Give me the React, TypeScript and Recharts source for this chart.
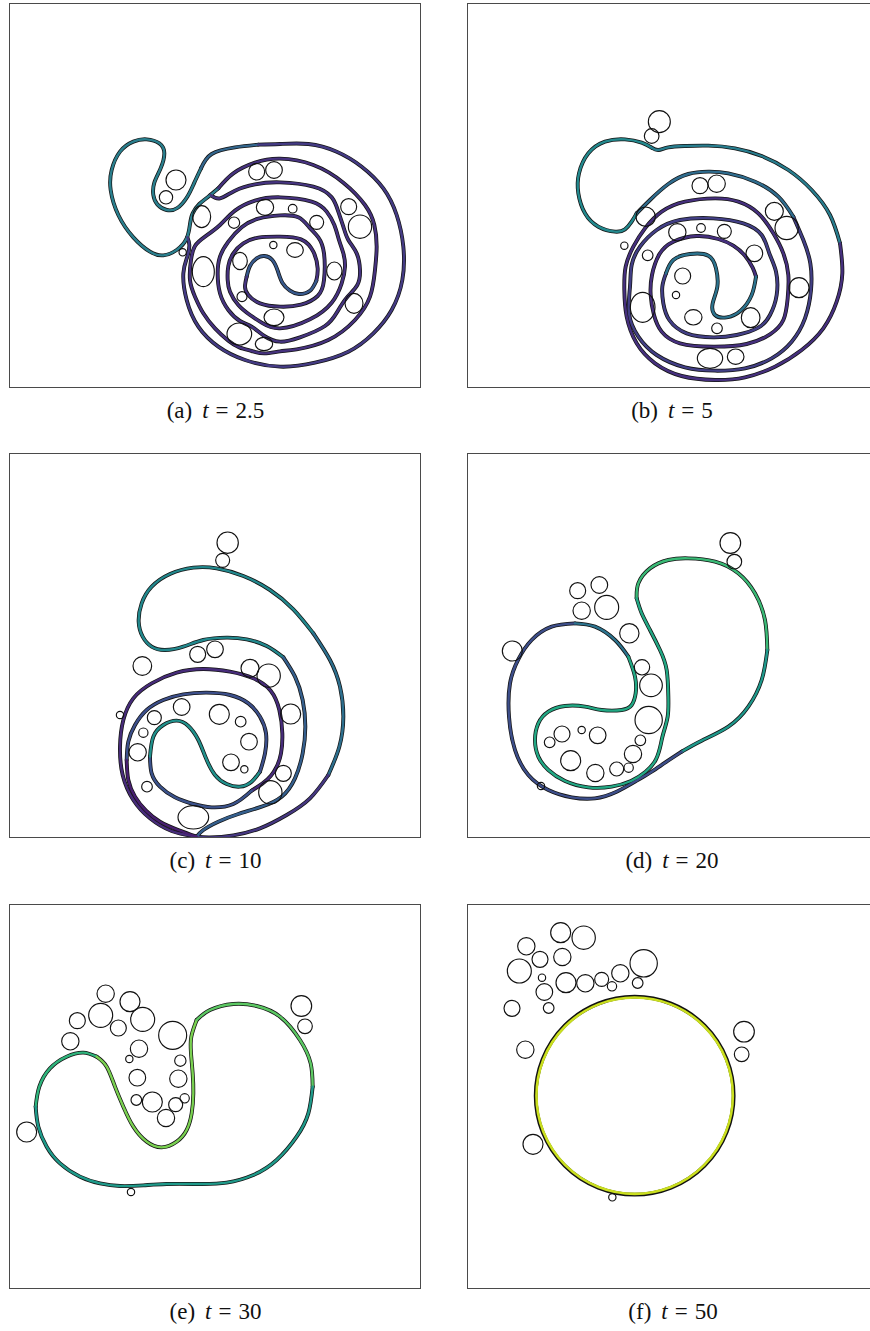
import React from 'react';
import { ComposedChart, Line, Scatter, XAxis, YAxis } from 'recharts';

type Pt = [number, number];
type Bub = [number, number, number, number]; // x, y, rx, ry (data units)

// ============ (a) t = 2.5 ============
const aHead: Pt[] = [[655,565],[625,590],[598,612],[578,640],[570,672],[560,715],[530,750],[490,766],[450,755],[400,712],[355,645],[332,570],[335,510],[360,455],[400,425],[440,418],[478,430],[493,460],[482,505],[463,548],[460,585],[472,613],[500,630],[532,624],[562,590],[582,550],[603,505]];
const aHook: Pt[] = [[603,505],[635,462],[705,442],[775,434]];
const aOuter: Pt[] = [[775,434],[840,432],[925,432],[1010,455],[1085,500],[1150,565],[1190,645],[1210,740],[1207,840],[1175,930],[1120,1000],[1045,1055],[945,1088],[840,1100],[735,1080],[655,1040],[595,980],[560,900],[550,820],[562,770],[568,735],[562,712]];
const aInward: Pt[] = [[655,565],[700,520],[765,488],[840,476],[940,495],[1030,548],[1095,615],[1123,675],[1130,740],[1125,810],[1110,890],[1065,960],[985,1020],[890,1048],[840,1054],[793,1060],[755,1053],[718,1042],[685,1022],[645,985],[610,940],[585,890],[570,840],[573,780],[585,738],[615,710],[660,675],[705,632],[765,602],[840,592],[935,605],[980,635],[1003,675],[1017,720],[1030,760],[1035,800],[1025,850],[995,908],[930,958],[840,985],[785,968],[750,945],[715,915],[690,875],[683,840],[685,798],[700,760],[730,730],[775,713],[840,710],[903,718],[940,755],[953,805],[949,842]];
const aCore: Pt[] = [[949,842],[930,872],[897,882],[870,872],[847,848],[833,812],[817,780],[793,768],[770,775],[750,798],[740,830]];
const aOutward: Pt[] = [[740,830],[735,860],[745,885],[780,910],[840,920],[903,914],[953,888],[972,840],[972,760],[955,712],[928,682],[895,652],[840,646],[775,656],[725,682],[685,725],[660,770],[653,820],[660,880],[685,930],[720,963],[755,980],[793,1008],[840,1025],[900,1012],[975,978],[1012,935],[1040,893],[1072,855],[1080,810],[1070,760],[1045,720],[1030,680],[1015,635],[995,592],[940,560],[840,547],[765,553],[705,572],[660,595],[632,585]];
const aBubbles: Bub[] = [[528,540,30,30],[498,592,20,20],[770,515,24,25],[822,510,25,25],[605,650,27,33],[702,668,17,17],[795,622,26,24],[878,626,13,13],[950,667,21,21],[1046,620,24,24],[1080,680,35,35],[548,757,11,11],[820,735,11,11],[885,750,25,22],[720,783,22,26],[610,815,33,45],[1003,813,23,27],[726,890,15,15],[1062,910,27,30],[822,952,30,25],[718,1002,37,33],[792,1032,26,20]];

// ============ (b) t = 5 ============
const bHead: Pt[] = [[545,640],[530,665],[510,688],[480,695],[430,680],[390,640],[370,580],[372,520],[400,460],[450,425],[510,418],[560,428],[590,443]];
const bOuterTop: Pt[] = [[1155,730],[1125,645],[1070,570],[1000,510],[920,468],[840,445],[760,437],[690,438],[640,442],[610,450],[590,443]];
const bOuter: Pt[] = [[903,830],[893,803],[870,767],[835,737],[790,717],[725,708],[655,725],[613,763],[591,825],[587,885],[597,945],[620,995],[675,1030],[775,1040],[875,1032],[945,1003],[985,960],[998,895],[1000,825],[985,760],[955,700],[910,640],[850,605],[780,595],[690,605],[620,635],[570,685],[535,740],[512,800],[508,870],[515,950],[545,1030],[600,1090],[680,1128],[780,1140],[870,1132],[960,1100],[1040,1050],[1105,985],[1145,905],[1162,820],[1155,730]];
const bInner: Pt[] = [[633,820],[622,860],[625,910],[643,960],[695,1000],[775,1012],[845,1005],[910,983],[945,945],[965,885],[963,815],[943,760],[920,705],[865,670],[775,655],[675,660],[605,690],[555,740],[530,795],[525,860],[522,940],[550,1010],[605,1065],[690,1102],[780,1112],[870,1105],[950,1075],[1010,1025],[1050,955],[1068,870],[1066,790],[1045,720],[1015,650]];
const bInnerTop: Pt[] = [[1015,650],[970,590],[900,545],[820,520],[760,515],[700,522],[640,552],[585,600],[545,640]];
const bCore: Pt[] = [[633,820],[655,780],[705,762],[760,767],[783,805],[787,860],[773,910],[780,945],[815,952],[857,932],[890,885],[903,830]];
const bBubbles: Bub[] = [[613,365,33,33],[590,408,22,22],[508,737,11,11],[735,557,24,24],[785,551,26,26],[572,650,29,29],[958,634,27,27],[995,684,35,35],[667,697,26,26],[738,684,13,13],[808,694,21,21],[578,766,16,16],[898,760,25,25],[683,828,24,24],[663,885,11,11],[1032,863,30,30],[563,922,37,45],[715,952,26,23],[887,953,28,30],[786,985,16,16],[765,1075,38,30],[842,1070,25,23]];

// ============ (c) t = 10 ============
const cHeadTop: Pt[] = [[850,622],[800,588],[740,568],[680,563],[610,570],[550,590],[495,600],[455,590],[428,560],[416,515],[425,460],[455,410],[510,372],[580,353],[650,355],[730,378],[810,420],[880,478],[940,550]];
const cHeadSide: Pt[] = [[940,550],[990,630],[1020,710],[1030,800],[1018,890],[985,975]];
const cHeadBottom: Pt[] = [[985,975],[930,1045],[860,1095],[780,1135],[700,1156],[630,1162],[590,1160]];
const cBlueArm: Pt[] = [[850,622],[885,680],[908,750],[916,830],[908,910],[885,985],[845,1040],[785,1070],[715,1092],[655,1115],[610,1140],[590,1160]];
const cPurpleArm: Pt[] = [[590,1160],[515,1143],[450,1105],[400,1050],[368,975],[360,890],[370,810],[400,745],[455,700],[530,668],[610,657],[690,665],[760,685],[812,722],[838,780],[847,850],[843,910],[830,950],[812,978],[788,1000],[755,1022]];
const cLoopBottom: Pt[] = [[755,1022],[700,1062],[635,1072],[580,1062],[525,1042],[480,1010],[455,970],[450,920]];
const cCore: Pt[] = [[450,920],[460,860],[490,825],[530,812],[565,828],[595,870],[618,925],[645,975],[680,1002],[720,1010],[755,995],[780,965]];
const cLoopTop: Pt[] = [[780,965],[795,910],[798,850],[780,800],[745,760],[690,735],[620,728],[550,733],[490,750],[440,780],[405,825],[385,875],[380,930]];
const cInnerLeft: Pt[] = [[380,930],[385,990],[405,1040],[438,1082],[480,1115],[535,1140],[590,1160]];
const cBubbles: Bub[] = [[683,278,32,32],[668,331,21,21],[427,648,28,28],[593,613,24,24],[645,598,25,25],[750,655,27,27],[806,677,35,35],[872,792,30,30],[360,795,11,11],[463,803,21,21],[545,771,25,25],[658,793,30,30],[722,815,16,16],[430,848,14,14],[747,875,25,25],[413,907,26,26],[693,937,25,25],[733,958,11,11],[850,970,24,24],[811,1027,35,35],[441,1010,16,16],[580,1102,46,35]];

// ============ (d) t = 20 ============
const dTop: Pt[] = [[545,445],[550,400],[585,355],[640,330],[700,325],[780,335],[850,370],[900,430],[930,510],[937,600]];
const dRight: Pt[] = [[937,600],[920,690],[880,770],[820,830],[740,872],[680,905]];
const dLeft: Pt[] = [[680,905],[630,938],[590,965],[545,992],[485,1025],[420,1045],[350,1042],[280,1020],[220,975],[180,900],[162,800],[165,700],[190,628],[230,570],[290,530],[360,520]];
const dNeck: Pt[] = [[360,520],[420,530],[480,570],[520,620]];
const dCurl: Pt[] = [[520,620],[540,680],[542,730],[530,765],[500,780],[440,780],[390,770],[330,768],[280,785],[250,820],[240,870],[250,920],[280,960],[330,993],[400,1012],[470,1010],[528,993],[572,965],[603,928],[618,880],[625,850],[638,800],[640,740],[635,660],[615,600],[585,540],[560,490],[545,445]];
const dBubbles: Bub[] = [[826,279,31,31],[838,335,22,22],[368,422,24,24],[433,405,25,25],[380,482,26,26],[455,472,36,36],[523,550,29,29],[172,603,30,30],[561,652,23,23],[588,706,34,34],[581,810,41,41],[321,852,24,24],[380,840,11,11],[428,856,25,25],[284,877,16,16],[556,871,16,16],[347,932,30,30],[534,912,26,26],[421,969,26,26],[485,957,21,21],[521,953,14,14],[258,1008,11,11]];

// ============ (e) t = 30 ============
const eLeftTop: Pt[] = [[107,620],[118,560],[150,505],[200,470],[250,458],[290,470]];
const eValley: Pt[] = [[290,470],[320,500],[345,560],[370,620],[400,680],[440,725],[485,742],[530,725],[560,690],[575,640],[580,580],[578,520],[573,460],[574,410],[590,360]];
const eRightTop: Pt[] = [[590,360],[630,330],[700,312],[770,318],[840,350],[900,420],[932,490],[938,560]];
const eBottom: Pt[] = [[938,560],[925,640],[890,710],[830,780],[760,825],[680,848],[600,852],[500,852],[430,856],[360,858],[300,850],[240,830],[180,790],[140,740],[115,680],[107,620]];
const eBubbles: Bub[] = [[317,281,26,26],[390,305,30,30],[232,362,24,24],[302,346,36,36],[355,384,24,24],[428,358,36,36],[211,424,26,26],[518,406,42,42],[417,446,26,26],[388,477,11,11],[541,482,17,17],[412,533,25,25],[535,536,26,26],[409,600,16,16],[457,606,30,30],[527,614,21,21],[554,595,14,14],[498,654,26,26],[904,318,31,31],[915,379,22,22],[80,696,30,30],[393,876,11,11]];

// ============ (f) t = 50 ============
const fDrop = [{ x: 539, y: 587, r: 297 }];
const fBubbles: Bub[] = [[317,98,30,30],[386,113,35,35],[214,139,26,26],[255,178,24,24],[322,171,26,26],[193,213,36,36],[261,233,11,11],[333,248,30,30],[391,250,26,26],[440,238,21,21],[471,259,14,14],[496,220,26,26],[566,190,41,41],[548,249,16,16],[268,276,25,25],[281,324,16,16],[171,325,24,24],[211,449,26,26],[867,395,31,31],[860,463,22,22],[234,733,30,30],[472,892,11,11]];

const captionLabels = ['(a)', '(b)', '(c)', '(d)', '(e)', '(f)'];
const captionTimes = ['2.5', '5', '10', '20', '30', '50'];

// ---------------- rendering ----------------
const W = 412;
const H = 385;
const SPAN_X = 1236;
const SPAN_Y = 1155;
const PX = W / SPAN_X;

type Stroke = { pts: Pt[]; color: string };

const toXY = (pts: Pt[]) => pts.map(([x, y]) => ({ x, y }));
const toBub = (b: Bub[]) => b.map(([x, y, rx, ry]) => ({ x, y, rx, ry }));

const BubbleShape = (props: any) => {
  const { cx, cy, payload } = props;
  if (cx == null || cy == null || !payload) return <g />;
  return (
    <ellipse cx={cx} cy={cy} rx={payload.rx * PX} ry={payload.ry * PX} fill="none" stroke="#111" strokeWidth={1.15} />
  );
};

const RING_COLOR = '#cadf1f';
const RingShape = (props: any) => {
  const { cx, cy, payload } = props;
  if (cx == null || cy == null || !payload) return <g />;
  const r = payload.r * PX;
  return (
    <g>
      <circle cx={cx} cy={cy} r={r} fill="none" stroke="#111" strokeWidth={3.8} />
      <circle cx={cx} cy={cy} r={r - 0.8} fill="none" stroke={RING_COLOR} strokeWidth={2.6} />
    </g>
  );
};

type PanelCfg = {
  left: number;
  top: number;
  x0: number;
  y0: number;
  strokes: Stroke[];
  bubbles: Bub[];
  drop?: boolean;
};

const PANELS: PanelCfg[] = [
  {
    left: 9, top: 3, x0: 27, y0: 9,
    strokes: [
      { pts: aHead, color: '#2a7f8e' },
      { pts: aHook, color: '#33668d' },
      { pts: aOuter, color: '#443b84' },
      { pts: aInward, color: '#46327e' },
      { pts: aCore, color: '#37598c' },
      { pts: aOutward, color: '#45347f' },
    ],
    bubbles: aBubbles,
  },
  {
    left: 467, top: 3, x0: 36, y0: 9,
    strokes: [
      { pts: bHead, color: '#23898e' },
      { pts: bOuterTop, color: '#287d8e' },
      { pts: bOuter, color: '#46307e' },
      { pts: bInner, color: '#423f85' },
      { pts: bInnerTop, color: '#2f6c8e' },
      { pts: bCore, color: '#2c738e' },
    ],
    bubbles: bBubbles,
  },
  {
    left: 9, top: 453, x0: 27, y0: 9,
    strokes: [
      { pts: cHeadTop, color: '#22888d' },
      { pts: cHeadSide, color: '#2d6f8e' },
      { pts: cHeadBottom, color: '#453781' },
      { pts: cBlueArm, color: '#355f8d' },
      { pts: cPurpleArm, color: '#472c7a' },
      { pts: cLoopBottom, color: '#3b528b' },
      { pts: cCore, color: '#21918c' },
      { pts: cLoopTop, color: '#3c4f8a' },
      { pts: cInnerLeft, color: '#481f70' },
    ],
    bubbles: cBubbles,
  },
  {
    left: 467, top: 453, x0: 36, y0: 9,
    strokes: [
      { pts: dTop, color: '#3aba76' },
      { pts: dRight, color: '#1f988b' },
      { pts: dLeft, color: '#3d4e8a' },
      { pts: dNeck, color: '#2c738e' },
      { pts: dCurl, color: '#22a884' },
    ],
    bubbles: dBubbles,
  },
  {
    left: 9, top: 904, x0: 27, y0: 12,
    strokes: [
      { pts: eLeftTop, color: '#2fb47c' },
      { pts: eValley, color: '#7ad151' },
      { pts: eRightTop, color: '#5cc863' },
      { pts: eBottom, color: '#1f9a8a' },
    ],
    bubbles: eBubbles,
  },
  {
    left: 467, top: 904, x0: 36, y0: 12,
    strokes: [],
    bubbles: fBubbles,
    drop: true,
  },
];

const CAPTION_CX = [215.5, 672, 215.5, 672, 215.5, 673];
const CAPTION_TOP = [398.5, 398.5, 848.5, 848.5, 1299.5, 1299.5];

function Panel({ cfg }: { cfg: PanelCfg }) {
  return (
    <div style={{ position: 'absolute', left: cfg.left, top: cfg.top, width: W, height: H }}>
      <ComposedChart width={W} height={H} margin={{ top: 0, right: 0, bottom: 0, left: 0 }}>
        <XAxis type="number" dataKey="x" domain={[cfg.x0, cfg.x0 + SPAN_X]} hide allowDataOverflow />
        <YAxis type="number" dataKey="y" domain={[cfg.y0, cfg.y0 + SPAN_Y]} hide reversed allowDataOverflow />
        {cfg.strokes.map((s, i) => (
          <Line
            key={`k${i}`}
            data={toXY(s.pts)}
            dataKey="y"
            type="natural"
            stroke="#141414"
            strokeWidth={3.9}
            strokeLinecap="round"
            strokeLinejoin="round"
            dot={false}
            activeDot={false}
            isAnimationActive={false}
          />
        ))}
        {cfg.strokes.map((s, i) => (
          <Line
            key={`c${i}`}
            data={toXY(s.pts)}
            dataKey="y"
            type="natural"
            stroke={s.color}
            strokeWidth={2.4}
            strokeLinecap="round"
            strokeLinejoin="round"
            dot={false}
            activeDot={false}
            isAnimationActive={false}
          />
        ))}
        {cfg.drop ? <Scatter data={fDrop} shape={RingShape} isAnimationActive={false} /> : null}
        <Scatter data={toBub(cfg.bubbles)} shape={BubbleShape} isAnimationActive={false} />
      </ComposedChart>
      <div
        style={{
          position: 'absolute', left: 0, top: 0, width: W, height: H,
          border: '1px solid #4a4a4a', boxSizing: 'border-box', pointerEvents: 'none',
        }}
      />
    </div>
  );
}

function Caption({ i }: { i: number }) {
  return (
    <div
      style={{
        position: 'absolute', left: CAPTION_CX[i] - 100, top: CAPTION_TOP[i], width: 200,
        textAlign: 'center', fontFamily: '"Liberation Serif", "Times New Roman", serif',
        fontSize: 23, lineHeight: '23px', color: '#111', whiteSpace: 'nowrap',
      }}
    >
      <span>{captionLabels[i]}</span>
      <span style={{ marginLeft: 10, fontStyle: 'italic' }}>t</span>
      <span style={{ margin: '0 7px' }}>=</span>
      <span>{captionTimes[i]}</span>
    </div>
  );
}

export default function App() {
  return (
    <div style={{ position: 'absolute', left: 0, top: 0, width: 870, height: 1331, overflow: 'hidden', background: '#fff' }}>
      {PANELS.map((p, i) => (
        <Panel key={i} cfg={p} />
      ))}
      {PANELS.map((_, i) => (
        <Caption key={`cap${i}`} i={i} />
      ))}
    </div>
  );
}
